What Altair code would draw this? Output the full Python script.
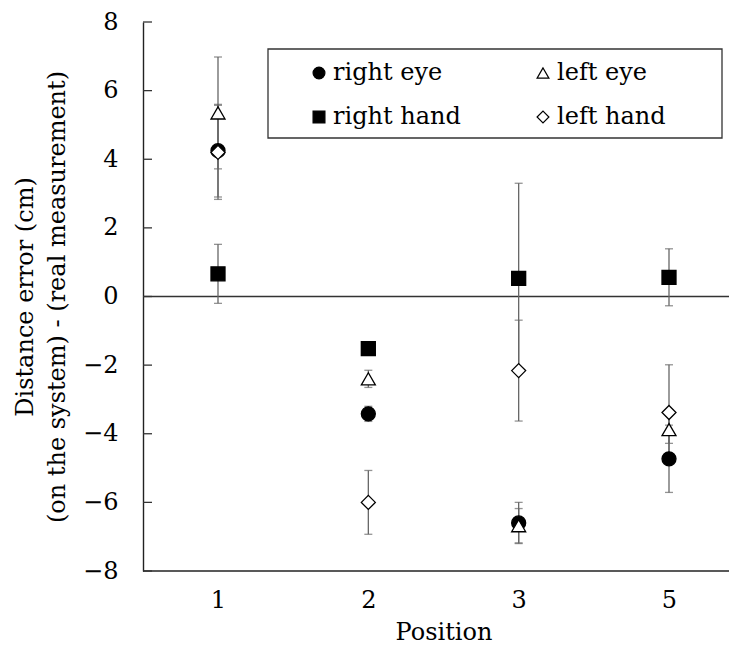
import altair as alt
import pandas as pd

# ---- data ----
positions = ["1", "2", "3", "5"]
series_order = ["right eye", "left eye", "right hand", "left hand"]

right_eye = [4.25, -3.42, -6.60, -4.73]
right_eye_err = [1.35, 0.22, 0.60, 0.98]
right_hand = [0.66, -1.52, 0.53, 0.56]
right_hand_err = [0.86, 0.10, 2.77, 0.83]
left_eye = [5.35, -2.40, -6.68, -3.88]
left_eye_err = [1.63, 0.25, 0.50, 0.40]
left_hand = [4.20, -6.00, -2.16, -3.38]
left_hand_err = [1.37, 0.93, 1.47, 1.39]

y_ticks = [-8, -6, -4, -2, 0, 2, 4, 6, 8]
y_min, y_max = -8, 8

# drawing order: filled markers first, then open ones on top
series_data = [
    ("right eye", right_eye, right_eye_err),
    ("right hand", right_hand, right_hand_err),
    ("left eye", left_eye, left_eye_err),
    ("left hand", left_hand, left_hand_err),
]
rows = []
for name, vals, errs in series_data:
    for p, v, e in zip(positions, vals, errs):
        rows.append({"series": name, "position": p, "value": v,
                     "lo": v - e, "hi": v + e})
df = pd.DataFrame(rows)
ticks_df = pd.DataFrame({"t": y_ticks})
zero_df = pd.DataFrame({"z": [0]})
bottom_df = pd.DataFrame({"b": [y_min]})

FONT = "DejaVu Serif"
FS = 24

x_scale = alt.Scale(type="point", domain=positions, range=[75, 526], padding=0)
y_scale = alt.Scale(domain=[y_min, y_max], nice=False, zero=False)
y_axis = alt.Axis(
    values=y_ticks, ticks=False, tickSize=0, grid=False, labelPadding=25, format="d",
    title=["Distance error (cm)", "(on the system) - (real measurement)"],
    titleX=-118, titleY=274.5, titleBaseline="middle", titleLineHeight=32,
    titleAngle=270,
)
x_axis = alt.Axis(title="Position", ticks=False, grid=False, labelAngle=0,
                  domain=False, labelPadding=17, titlePadding=8)

base = alt.Chart(df)

err_rule = base.mark_rule(color="#666666", strokeWidth=1.3).encode(
    x=alt.X("position:N", scale=x_scale, axis=x_axis),
    y=alt.Y("lo:Q", scale=y_scale, axis=y_axis),
    y2="hi:Q",
)
cap_lo = base.mark_tick(color="#666666", thickness=1.3, size=8, orient="horizontal").encode(
    x=alt.X("position:N", scale=x_scale, axis=x_axis),
    y=alt.Y("lo:Q", scale=y_scale, axis=y_axis),
)
cap_hi = base.mark_tick(color="#666666", thickness=1.3, size=8, orient="horizontal").encode(
    x=alt.X("position:N", scale=x_scale, axis=x_axis),
    y=alt.Y("hi:Q", scale=y_scale, axis=y_axis),
)
zero_line = alt.Chart(zero_df).mark_rule(color="#333333", strokeWidth=1.4).encode(
    y=alt.Y("z:Q", scale=y_scale, axis=y_axis),
)
bottom_line = alt.Chart(bottom_df).mark_rule(color="#222222", strokeWidth=1.4).encode(
    y=alt.Y("b:Q", scale=y_scale, axis=y_axis),
)
y_tick_marks = alt.Chart(ticks_df).mark_rule(color="#333333", strokeWidth=1.3).encode(
    y=alt.Y("t:Q", scale=y_scale, axis=y_axis),
    x=alt.value(0),
    x2=alt.value(9),
)
# legend frame (decoration)
legend_frame = alt.Chart(zero_df).mark_rect(
    fill="white", stroke="#333333", strokeWidth=1.3
).encode(
    x=alt.value(125), x2=alt.value(579), y=alt.value(27), y2=alt.value(116),
)

legend = alt.Legend(
    orient="none", legendX=125, legendY=27, columns=2, direction="horizontal",
    labelFont=FONT, labelFontSize=FS, labelColor="black",
    padding=12, rowPadding=20, columnPadding=43,
    symbolOffset=27, labelOffset=2, symbolSize=140,
    symbolStrokeWidth=1.2,
)
points = base.mark_point(filled=True, strokeWidth=1.3, size=196, opacity=1).encode(
    x=alt.X("position:N", scale=x_scale, axis=x_axis),
    y=alt.Y("value:Q", scale=y_scale, axis=y_axis),
    shape=alt.Shape("series:N", title=None, legend=legend,
                    scale=alt.Scale(domain=series_order,
                                    range=["circle", "triangle-up", "square", "diamond"])),
    fill=alt.Fill("series:N", title=None, legend=legend,
                  scale=alt.Scale(domain=series_order,
                                  range=["black", "white", "black", "white"])),
    stroke=alt.Stroke("series:N", title=None, legend=legend,
                      scale=alt.Scale(domain=series_order,
                                      range=["black", "black", "black", "black"])),
)

chart = alt.layer(zero_line, bottom_line, err_rule, cap_lo, cap_hi, y_tick_marks,
                  legend_frame, points).properties(
    width=586, height=549,
    padding={"left": 143, "top": 22, "right": 0, "bottom": 74},
    autosize="none",
    background="white",
).configure_view(stroke=None).configure_axis(
    labelFont=FONT, labelFontSize=FS, labelColor="black",
    titleFont=FONT, titleFontSize=FS, titleColor="black", titleFontWeight="normal",
    domainColor="#222222", domainWidth=1.4,
)

chart.save("out.html", embed_options={"renderer": "svg", "actions": False})
